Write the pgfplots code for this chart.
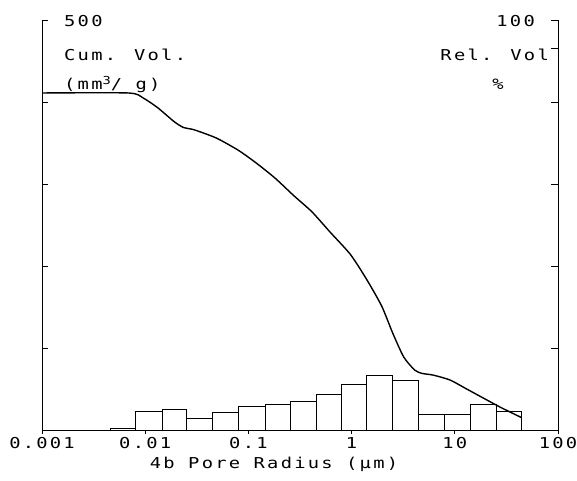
\documentclass[border=0pt]{standalone}
\usepackage{pgfplots}
\pgfplotsset{compat=1.18}
\usepackage{fontspec}
\newfontfamily\pf[LetterSpace=15,FakeStretch=1.25]{DejaVu Sans Mono}
\newcommand\pff{\pf\fontsize{15}{17}\selectfont}
\begin{document}
\begin{tikzpicture}[x=1pt,y=1pt]
\path[use as bounding box] (-42,-50) rectangle (535,430);
% relative volume histogram (right axis)
\begin{axis}[at={(0,0)}, anchor=south west, scale only axis, width=516pt, height=410pt,
  xmin=-3, xmax=2, ymin=0, ymax=100,
  axis x line=none, axis y line=right, axis line style={-,line width=0.9pt},
  ytick={20,40,60,80,93,100}, yticklabels={}, tick align=inside, major tick length=7pt,
  tick style={line width=0.9pt, black}, ybar interval, clip=false]
\addplot[fill=white, draw=black, line width=0.9pt] coordinates {
(-2.34,0.3) (-2.092,4.6) (-1.834,4.9) (-1.598,2.9) (-1.35,4.3) (-1.098,5.7)
(-0.839,6.3) (-0.59,7.0) (-0.345,8.7) (-0.096,11.2) (0.146,13.4) (0.394,12.0)
(0.646,3.9) (0.898,3.9) (1.147,6.2) (1.399,4.5) (1.648,0)};
\end{axis}
% cumulative volume (left axis)
\begin{axis}[at={(0,0)}, anchor=south west, scale only axis, width=516pt, height=410pt,
  xmin=-3, xmax=2, ymin=0, ymax=500,
  axis x line=none, axis y line=left, axis line style={-,line width=0.9pt},
  ytick={100,200,300,400,500}, yticklabels={}, tick align=inside, major tick length=6pt,
  tick style={line width=0.9pt, black}]
\addplot[black, line width=1.4pt, smooth, tension=0.4] coordinates {
(-3,411) (-2.164,411) (-2.021,405) (-1.879,393) (-1.719,376) (-1.63,369) (-1.523,366)
(-1.31,356) (-1.096,341) (-0.918,325) (-0.74,307) (-0.562,286) (-0.384,266)
(-0.206,241) (-0.011,214) (0.149,183) (0.292,151) (0.399,118) (0.505,89)
(0.612,73) (0.683,69) (0.789,67) (0.953,61) (1.115,50) (1.276,39) (1.438,28) (1.648,15)};
\end{axis}
% x axis
\begin{axis}[at={(0,0)}, anchor=south west, scale only axis, width=516pt, height=410pt,
  xmin=-3, xmax=2, ymin=0, ymax=1,
  axis x line=bottom, axis y line=none, axis line style={-,line width=0.9pt},
  xtick={-3,-2,-1,0,1,2}, xticklabels={0.001,0.01,0.1,1,10,100},
  tick align=outside, major tick length=4pt, tick style={line width=0.9pt, black},
  xticklabel style={font=\pff, inner sep=1pt, yshift=-2pt}]
\end{axis}
\node[anchor=base west, font=\pff, inner sep=0pt] at (22,403) {500};
\node[anchor=base west, font=\pff, inner sep=0pt] at (22,369) {Cum. Vol.};
\node[anchor=base west, font=\pff, inner sep=0pt] at (22,341) {(mm\raisebox{5pt}{\fontsize{11}{12}\selectfont 3}/ g)};
\node[anchor=base east, font=\pff, inner sep=0pt] at (493,403) {100};
\node[anchor=base east, font=\pff, inner sep=0pt] at (507,369) {Rel. Vol};
\node[anchor=base, font=\pff, inner sep=0pt] at (456,341) {\%};
\node[anchor=base, font=\pff, inner sep=0pt] at (232,-38) {4b Pore Radius (μm)};
\end{tikzpicture}
\end{document}
